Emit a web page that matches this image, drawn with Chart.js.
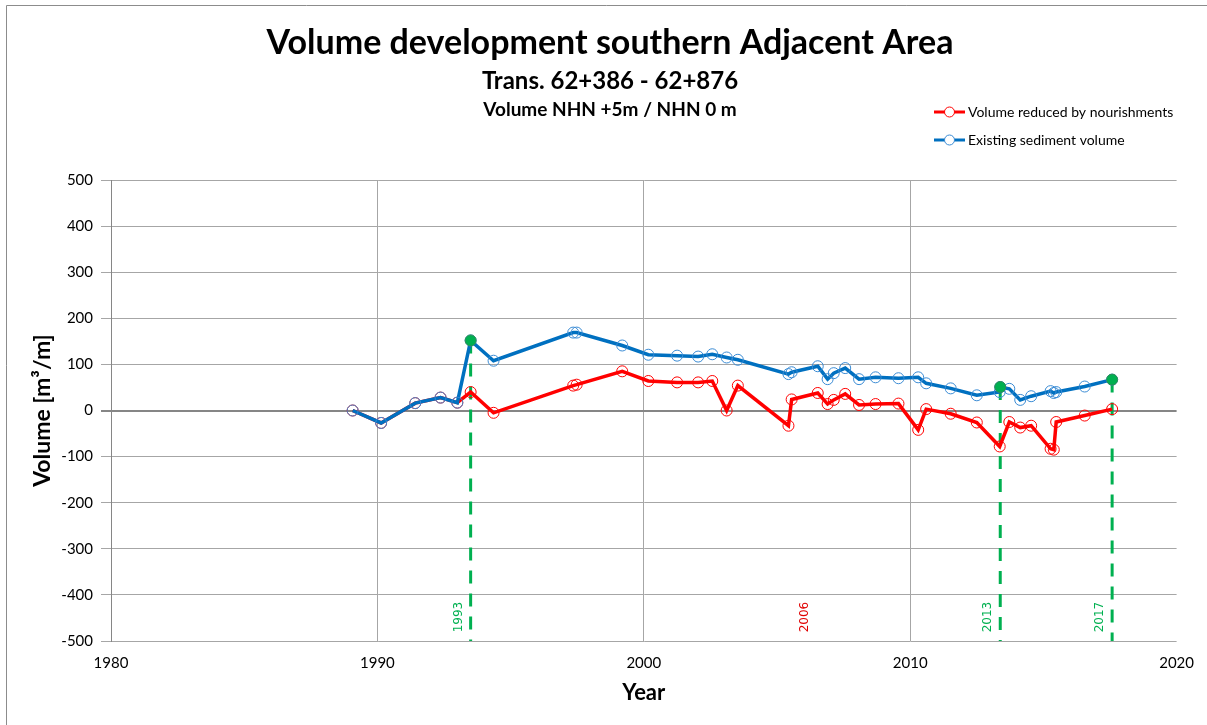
<!DOCTYPE html>
<html>
<head>
<meta charset="utf-8">
<script src="https://cdn.jsdelivr.net/npm/chart.js@4.4.0/dist/chart.umd.min.js"></script>
<style>
  html, body { margin: 0; padding: 0; background: #fff; }
  #wrap { position: relative; width: 1207px; height: 725px; }
</style>
</head>
<body>
<div id="wrap"><canvas id="myChart" width="1207" height="725"></canvas></div>
<script>
const redYears = [1989.07, 1990.14, 1991.42, 1992.37, 1993.0, 1993.5, 1994.36, 1997.35, 1997.48, 1999.19,
  2000.17, 2001.25, 2002.04, 2002.57, 2003.11, 2003.53, 2005.43, 2005.55, 2006.53, 2006.9,
  2007.13, 2007.56, 2008.08, 2008.7, 2009.56, 2010.3, 2010.6, 2011.52, 2012.5, 2013.36,
  2013.72, 2014.13, 2014.54, 2015.27, 2015.39, 2015.48, 2016.55, 2017.58];
const redVolumes = [0, -27, 16, 28, 17, 40, -5, 54, 56, 85,
  64, 61, 61, 64, 0, 54, -33, 24, 38, 14,
  23, 36, 12, 14, 15, -42, 3, -7, -26, -78,
  -25, -37, -33, -83, -85, -25, -11, 3];

const blueYears = [1989.07, 1990.14, 1991.42, 1992.37, 1993.0, 1993.5, 1994.36, 1997.35, 1997.48, 1999.19,
  2000.17, 2001.25, 2002.04, 2002.57, 2003.11, 2003.53, 2005.43, 2005.55, 2006.53, 2006.9,
  2007.13, 2007.56, 2008.08, 2008.7, 2009.56, 2010.3, 2010.6, 2011.52, 2012.5, 2013.36,
  2013.38, 2013.72, 2014.13, 2014.54, 2015.27, 2015.39, 2015.48, 2016.55, 2017.58];
const blueVolumes = [0, -27, 16, 28, 17, 152, 108, 169, 169, 141,
  121, 119, 117, 122, 115, 110, 79, 83, 96, 68,
  81, 92, 68, 72, 70, 72, 59, 48, 33, 40,
  51, 47, 23, 31, 42, 38, 40, 52, 67];

// nourishment events (green markers + dashed drop lines)
const nourishYears = [1993.5, 2013.38, 2017.58];
const nourishVolumes = [152, 51, 67];

// rotated year notes near the bottom
const noteTexts = ['1993', '2006', '2013', '2017'];
const noteYears = [1993.5, 2006.5, 2013.38, 2017.58];
const noteColors = ['#00B050', '#E00000', '#00B050', '#00B050'];

const yTicks = [-500, -400, -300, -200, -100, 0, 100, 200, 300, 400, 500];
const xTicks = [1980, 1990, 2000, 2010, 2020];

const colors = {
  red: '#FF0000',
  blue: '#0070C0',
  blueMarker: '#3A8BD4',
  green: '#00B050',
  grid: '#A6A6A6',
  axis: '#868686'
};

const toPoints = (xs, ys) => xs.map((x, i) => ({ x: x, y: ys[i] }));

const dropLines = [];
nourishYears.forEach((yr, i) => {
  dropLines.push({ x: yr, y: nourishVolumes[i] });
  dropLines.push({ x: yr, y: yTicks[0] });
  dropLines.push({ x: yr, y: null });
});

const headerPlugin = {
  id: 'header',
  beforeDraw(chart) {
    const ctx = chart.ctx;
    ctx.save();
    ctx.strokeStyle = '#8C8C8C';
    ctx.lineWidth = 1;
    ctx.beginPath();
    ctx.moveTo(6.5, 725);
    ctx.lineTo(6.5, 5.5);
    ctx.lineTo(1207, 5.5);
    ctx.stroke();
    ctx.restore();
  },
  afterDraw(chart) {
    const ctx = chart.ctx;
    ctx.save();
    ctx.fillStyle = '#000';
    ctx.textAlign = 'center';
    ctx.textBaseline = 'middle';
    ctx.font = 'bold 34px Lato';
    ctx.fillText('Volume development southern Adjacent Area', 610, 43);
    ctx.font = 'bold 24px Lato';
    ctx.fillText('Trans. 62+386 - 62+876', 610, 81);
    ctx.font = 'bold 19px Lato';
    ctx.fillText('Volume NHN +5m / NHN 0 m', 610, 110);

    // legend
    const items = [
      { text: chart.data.datasets[2].label, line: colors.red, mark: colors.red, y: 112 },
      { text: chart.data.datasets[1].label, line: colors.blue, mark: colors.blueMarker, y: 140 }
    ];
    ctx.textAlign = 'left';
    ctx.font = '14px Lato';
    items.forEach(it => {
      ctx.strokeStyle = it.line;
      ctx.lineWidth = 3;
      ctx.beginPath();
      ctx.moveTo(934, it.y);
      ctx.lineTo(965, it.y);
      ctx.stroke();
      ctx.fillStyle = '#fff';
      ctx.strokeStyle = it.mark;
      ctx.lineWidth = 1;
      ctx.beginPath();
      ctx.arc(949.5, it.y, 5, 0, Math.PI * 2);
      ctx.fill();
      ctx.stroke();
      ctx.fillStyle = '#000';
      ctx.fillText(it.text, 968, it.y);
    });

    // rotated year notes
    const xs = chart.scales.x, ys = chart.scales.y;
    ctx.font = '12px "DejaVu Sans"';
    ctx.textAlign = 'center';
    noteTexts.forEach((t, i) => {
      ctx.save();
      ctx.translate(xs.getPixelForValue(noteYears[i]) - 12, ys.getPixelForValue(-448));
      ctx.rotate(-Math.PI / 2);
      ctx.fillStyle = noteColors[i];
      ctx.fillText(t, 0, 0);
      ctx.restore();
    });
    ctx.restore();
  }
};

const myChart = new Chart(document.getElementById('myChart').getContext('2d'), {
  type: 'scatter',
  data: {
    datasets: [
      {
        label: 'Nourishment',
        data: toPoints(nourishYears, nourishVolumes),
        showLine: false,
        pointRadius: 5.5,
        pointBackgroundColor: colors.green,
        pointBorderColor: '#2E8B57',
        pointBorderWidth: 1,
        order: 0
      },
      {
        label: 'Existing sediment volume',
        data: toPoints(blueYears, blueVolumes),
        showLine: true,
        borderColor: colors.blue,
        borderWidth: 3.5,
        pointRadius: 5.5,
        pointBorderColor: colors.blueMarker,
        pointBackgroundColor: 'rgba(0,0,0,0)',
        pointBorderWidth: 1,
        order: 1
      },
      {
        label: 'Volume reduced by nourishments',
        data: toPoints(redYears, redVolumes),
        showLine: true,
        borderColor: colors.red,
        borderWidth: 3.5,
        pointRadius: 5.5,
        pointBorderColor: colors.red,
        pointBackgroundColor: 'rgba(0,0,0,0)',
        pointBorderWidth: 1,
        order: 2
      },
      {
        label: 'drop',
        data: dropLines,
        showLine: true,
        spanGaps: false,
        borderColor: colors.green,
        borderWidth: 3,
        borderDash: [13, 10],
        pointRadius: 0,
        order: 3
      }
    ]
  },
  options: {
    responsive: false,
    animation: false,
    layout: { padding: { top: 180, right: 29, bottom: 0, left: 0 } },
    plugins: {
      legend: { display: false },
      tooltip: { enabled: false }
    },
    scales: {
      x: {
        type: 'linear',
        min: 1980,
        max: 2020,
        afterBuildTicks: s => { s.ticks = xTicks.map(v => ({ value: v })); },
        ticks: {
          callback: v => String(v),
          font: { family: 'Lato', size: 15 },
          color: '#000',
          padding: 13,
          maxRotation: 0
        },
        grid: {
          color: c => c.tick.value === 2020 ? 'rgba(0,0,0,0)' : (c.tick.value === 1980 ? colors.axis : colors.grid),
          lineWidth: 1,
          drawTicks: false
        },
        border: { display: false },
        title: {
          display: true,
          text: 'Year',
          color: '#000',
          font: { family: 'Lato', size: 22, weight: 'bold' },
          padding: { top: 0, bottom: 19 }
        },
        afterFit: s => { s.height = 84; }
      },
      y: {
        min: -500,
        max: 500,
        afterBuildTicks: s => { s.ticks = yTicks.map(v => ({ value: v })); },
        ticks: {
          font: { family: 'Lato', size: 15 },
          color: '#000',
          padding: 8
        },
        grid: {
          color: c => c.tick.value === 0 ? colors.axis : colors.grid,
          lineWidth: c => c.tick.value === 0 ? 2 : 1,
          tickLength: 10
        },
        border: { color: colors.axis, width: 1 },
        title: {
          display: true,
          text: 'Volume [m³/m]',
          color: '#000',
          font: { family: 'Lato', size: 23, weight: 'bold' },
          padding: { top: 29, bottom: 0 }
        },
        afterFit: s => { s.width = 111; }
      }
    }
  },
  plugins: [headerPlugin]
});
</script>
</body>
</html>
